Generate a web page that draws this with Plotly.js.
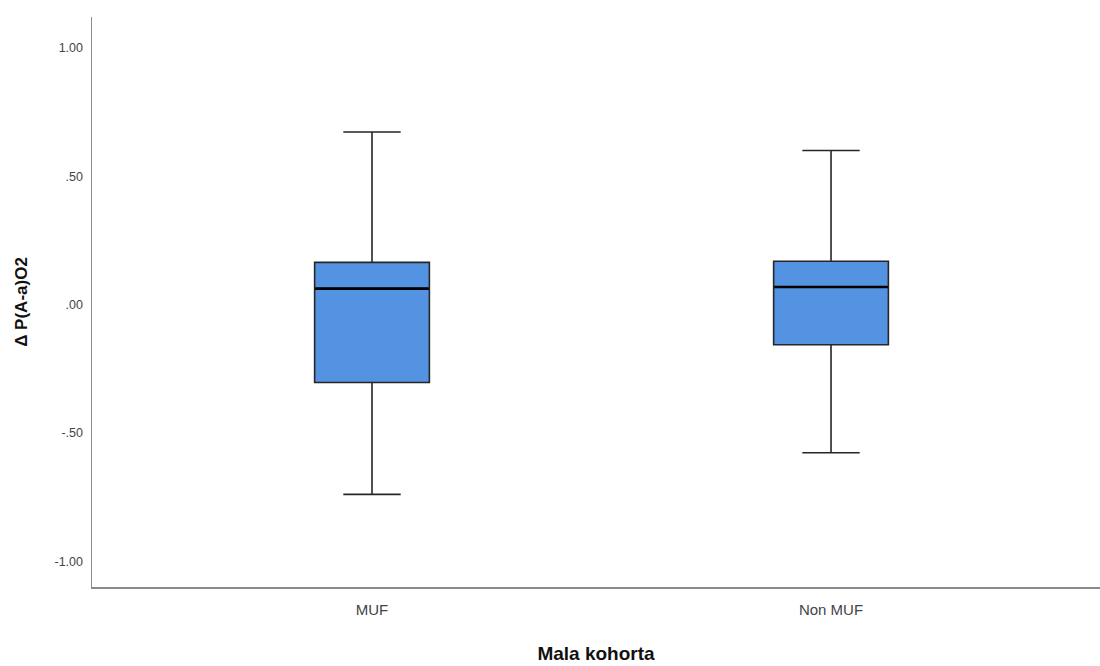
<!DOCTYPE html>
<html>
<head>
<meta charset="utf-8">
<script src="https://cdn.plot.ly/plotly-3.0.1.min.js"></script>
<style>html,body{margin:0;padding:0;background:#fff;}#chart{width:1100px;height:666px;}</style>
</head>
<body>
<div id="chart"></div>
<script>
const categories = ['MUF', 'Non MUF'];
const lowerWhisker = [-0.739, -0.577];
const q1Values = [-0.303, -0.156];
const medianValues = [0.0625, 0.069];
const q3Values = [0.165, 0.169];
const upperWhisker = [0.673, 0.601];
const yTickVals = [-1, -0.5, 0, 0.5, 1];
const yTickText = ['-1.00', '-.50', '.00', '.50', '1.00'];

const boxTrace = {
  type: 'box',
  x: categories,
  q1: q1Values,
  median: medianValues,
  q3: q3Values,
  lowerfence: lowerWhisker,
  upperfence: upperWhisker,
  width: 0.25,
  whiskerwidth: 0.5,
  fillcolor: '#5393E2',
  line: {color: '#262626', width: 1.6},
  boxpoints: false,
  hoverinfo: 'skip',
  showlegend: false
};

const medianTrace = {
  type: 'scatter',
  mode: 'markers',
  x: categories,
  y: medianValues,
  marker: {symbol: 'line-ew', size: 81, color: '#000', line: {color: '#000', width: 2.6}},
  hoverinfo: 'skip',
  showlegend: false
};

const layout = {
  width: 1100,
  height: 666,
  margin: {l: 92, r: 0, t: 17, b: 79},
  paper_bgcolor: '#fff',
  plot_bgcolor: '#fff',
  font: {family: 'Liberation Sans, Arial, sans-serif', color: '#333'},
  xaxis: {
    type: 'category',
    range: [-0.61, 1.586],
    showgrid: false,
    zeroline: false,
    showline: true,
    linecolor: '#8a8a8a',
    linewidth: 1.5,
    ticks: '',
    tickfont: {size: 15, color: '#444'},
    ticklabelstandoff: 8,
    title: {text: 'Mala kohorta', font: {size: 19, color: '#111', weight: 'bold'}, standoff: 30}
  },
  yaxis: {
    range: [-1.10, 1.121],
    tickvals: yTickVals,
    ticktext: yTickText,
    showgrid: false,
    zeroline: false,
    showline: true,
    linecolor: '#8a8a8a',
    linewidth: 1.5,
    ticks: '',
    tickfont: {size: 12.5, color: '#444'},
    ticklabelstandoff: 5,
    title: {text: 'Δ P(A-a)O2', font: {size: 17, color: '#111', weight: 'bold'}, standoff: 22}
  }
};

Plotly.newPlot('chart', [boxTrace, medianTrace], layout, {staticPlot: true, displayModeBar: false});
</script>
</body>
</html>
